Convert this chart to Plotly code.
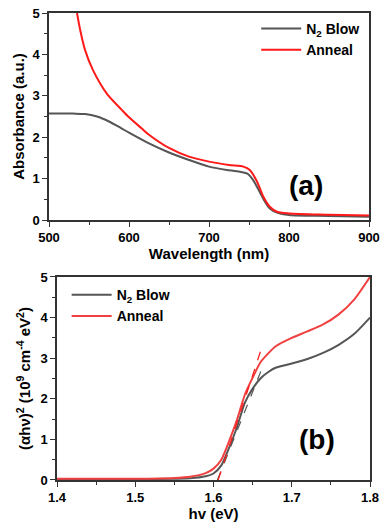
import plotly.graph_objects as go

# Panel (a): absorbance spectra
wl_n2 = [500, 530, 545, 560, 575, 590, 600, 625, 650, 675, 700, 725, 740, 748, 755, 762, 770, 776, 785, 800, 850, 900]
abs_n2 = [2.57, 2.57, 2.56, 2.50, 2.38, 2.22, 2.11, 1.85, 1.63, 1.45, 1.29, 1.20, 1.16, 1.12, 0.97, 0.73, 0.44, 0.28, 0.18, 0.12, 0.10, 0.08]
wl_an = [535, 539, 545, 555, 572, 591, 600, 616, 625, 650, 675, 700, 725, 743, 751, 760, 768, 776, 785, 800, 850, 900]
abs_an = [5.0, 4.59, 4.11, 3.62, 3.06, 2.66, 2.48, 2.21, 2.06, 1.74, 1.53, 1.41, 1.33, 1.29, 1.21, 0.93, 0.56, 0.32, 0.20, 0.16, 0.13, 0.11]
wl_ticks = [500, 600, 700, 800, 900]
abs_ticks = [0, 1, 2, 3, 4, 5]

# Panel (b): Tauc plot
hv = [1.40, 1.45, 1.50, 1.55, 1.57, 1.59, 1.60, 1.61, 1.62, 1.63, 1.64, 1.65, 1.66, 1.67, 1.68, 1.70, 1.72, 1.74, 1.76, 1.78, 1.80]
tauc_n2 = [0.02, 0.02, 0.02, 0.03, 0.04, 0.09, 0.16, 0.36, 0.80, 1.30, 1.90, 2.25, 2.50, 2.66, 2.77, 2.87, 2.98, 3.13, 3.33, 3.60, 4.00]
tauc_an = [0.03, 0.03, 0.03, 0.05, 0.08, 0.17, 0.28, 0.50, 0.96, 1.48, 2.10, 2.52, 2.90, 3.12, 3.30, 3.50, 3.66, 3.83, 4.08, 4.45, 5.00]
fit_n2_x = [1.605, 1.6645]
fit_n2_y = [0.0, 2.87]
fit_an_x = [1.606, 1.661]
fit_an_y = [0.0, 3.22]
hv_ticks = [1.4, 1.5, 1.6, 1.7, 1.8]
tauc_ticks = [0, 1, 2, 3, 4, 5]

GRAY = "#555555"
RED = "#ff1a1a"
FONT = "Liberation Sans, Arial, sans-serif"

fig = go.Figure()
fig.add_trace(go.Scatter(x=wl_n2, y=abs_n2, mode="lines", name="<b>N<sub>2</sub> Blow</b>",
                         line=dict(color=GRAY, width=2, shape="spline", smoothing=0.8), xaxis="x", yaxis="y", legend="legend"))
fig.add_trace(go.Scatter(x=wl_an, y=abs_an, mode="lines", name="<b>Anneal</b>",
                         line=dict(color=RED, width=2, shape="spline", smoothing=0.8), xaxis="x", yaxis="y", legend="legend"))
fig.add_trace(go.Scatter(x=hv, y=tauc_n2, mode="lines", name="<b>N<sub>2</sub> Blow</b>",
                         line=dict(color=GRAY, width=2, shape="spline", smoothing=0.6), xaxis="x2", yaxis="y2", legend="legend2"))
fig.add_trace(go.Scatter(x=hv, y=tauc_an, mode="lines", name="<b>Anneal</b>",
                         line=dict(color="#f04040", width=2, shape="spline", smoothing=0.6), xaxis="x2", yaxis="y2", legend="legend2"))
fig.add_trace(go.Scatter(x=fit_n2_x, y=fit_n2_y, mode="lines", showlegend=False,
                         line=dict(color=GRAY, width=1.2, dash="dash"), xaxis="x2", yaxis="y2"))
fig.add_trace(go.Scatter(x=fit_an_x, y=fit_an_y, mode="lines", showlegend=False,
                         line=dict(color=RED, width=1.2, dash="dash"), xaxis="x2", yaxis="y2"))

axis_common = dict(showline=True, linecolor="#333333", linewidth=1.5, mirror=True, ticks="outside",
                   ticklen=5, tickwidth=1.2, tickcolor="#333333", showgrid=False, zeroline=False,
                   automargin=False, tickmode="array",
                   tickfont=dict(family=FONT, size=13, color="black"),
                   title_font=dict(family=FONT, size=15, color="black", weight="bold"))
minor_common = dict(ticks="outside", ticklen=3, tickwidth=1, tickcolor="#333333", showgrid=False)


def bold(vals, fmt="{:g}"):
    return ["<b>" + fmt.format(v) + "</b>" for v in vals]


fig.update_layout(
    width=390, height=522,
    margin=dict(l=49, r=20, t=13, b=42, autoexpand=False),
    paper_bgcolor="white", plot_bgcolor="white",
    font=dict(family=FONT, color="black"),
    xaxis=dict(domain=[0, 320/321], range=[500, 900], anchor="y",
               tickvals=wl_ticks, ticktext=bold(wl_ticks),
               minor=dict(tickmode="linear", tick0=500, dtick=50, **minor_common),
               title=dict(text="Wavelength (nm)", standoff=2),
               **axis_common),
    yaxis=dict(domain=[0.5567, 1], range=[0, 5], anchor="x",
               tickvals=abs_ticks, ticktext=bold(abs_ticks),
               minor=dict(tickmode="linear", tick0=0, dtick=0.5, **minor_common),
               title=dict(text="Absorbance (a.u.)", standoff=4),
               **axis_common),
    xaxis2=dict(domain=[8/321, 1], range=[1.4, 1.8], anchor="y2",
                tickvals=hv_ticks, ticktext=bold(hv_ticks, "{:.1f}"),
                minor=dict(tickmode="linear", tick0=1.4, dtick=0.05, **minor_common),
                title=dict(text="hv (eV)", standoff=2),
                **axis_common),
    yaxis2=dict(domain=[0, 0.4347], range=[0, 5], anchor="x2",
                tickvals=tauc_ticks, ticktext=bold(tauc_ticks),
                minor=dict(tickmode="linear", tick0=0, dtick=0.5, **minor_common),
                title=dict(text="(αhν)<sup>2</sup> (10<sup>9</sup> cm<sup>-4</sup> eV<sup>2</sup>)", standoff=6),
                **axis_common),
    legend=dict(x=0.985, y=1.0, xanchor="right", yanchor="top", bgcolor="rgba(0,0,0,0)",
                font=dict(family=FONT, size=14, color="black"), tracegroupgap=0, itemwidth=40),
    legend2=dict(x=0.055, y=0.43, xanchor="left", yanchor="top", bgcolor="rgba(0,0,0,0)",
                 font=dict(family=FONT, size=14, color="black"), tracegroupgap=0, itemwidth=40),
)

# annotation positions given in pixels, converted to paper coords
W, H = 321, 467
for txt, px, py in [("(a)", 325, 185), ("(b)", 337, 457)]:
    fig.add_annotation(text="<b>%s</b>" % txt, x=(px - 49) / W, y=(480 - py) / H,
                       xref="paper", yref="paper", showarrow=False,
                       font=dict(family=FONT, size=28, color="black"))

fig.write_html("out.html", config={"displayModeBar": False},
               post_script="document.body.style.margin='0';document.body.style.padding='0';")
